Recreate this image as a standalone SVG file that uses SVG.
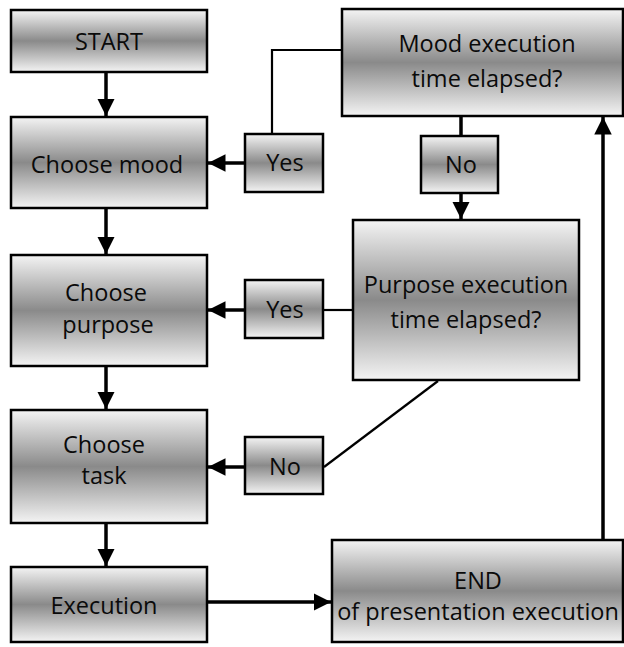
<svg xmlns="http://www.w3.org/2000/svg" width="624" height="647" viewBox="0 0 624 647">
<defs>
<linearGradient id="g" x1="0" y1="0" x2="0" y2="1">
<stop offset="0" stop-color="#f4f4f4"/>
<stop offset="0.5" stop-color="#8a8a8a"/>
<stop offset="1" stop-color="#f4f4f4"/>
</linearGradient>
<marker id="ah" viewBox="0 0 10 10" refX="10" refY="5" markerWidth="5" markerHeight="5" markerUnits="strokeWidth" orient="auto">
<path d="M0,0 L10,5 L0,10 z" fill="#000"/>
</marker>
</defs>
<style>
.box{fill:url(#g);stroke:#000;stroke-width:2.5}
.t{font-family:"Open Sans","Noto Sans",sans-serif;font-size:23.5px;fill:#0a0a0a;text-anchor:middle}
.a{stroke:#000;stroke-width:3.5;fill:none}
.l{stroke:#000;stroke-width:2.2;fill:none}
</style>
<rect width="624" height="647" fill="#fff"/>
<g id="connectors">
<line class="a" x1="106" y1="72" x2="106" y2="116" marker-end="url(#ah)"/>
<line class="a" x1="106" y1="208" x2="106" y2="254" marker-end="url(#ah)"/>
<line class="a" x1="106" y1="366" x2="106" y2="409" marker-end="url(#ah)"/>
<line class="a" x1="106" y1="523" x2="106" y2="566" marker-end="url(#ah)"/>
<line class="a" x1="245" y1="163" x2="208" y2="163" marker-end="url(#ah)"/>
<polyline class="l" points="272,134 272,50 342,50"/>
<line class="a" x1="461" y1="116" x2="461" y2="135"/>
<line class="a" x1="461" y1="193" x2="461" y2="219" marker-end="url(#ah)"/>
<line class="a" x1="245" y1="310" x2="208" y2="310" marker-end="url(#ah)"/>
<line class="l" x1="323" y1="310" x2="353" y2="310"/>
<line class="a" x1="245" y1="467" x2="208" y2="467" marker-end="url(#ah)"/>
<line class="l" x1="438" y1="381" x2="324" y2="467" stroke-width="2.5"/>
<line class="a" x1="207" y1="602" x2="331" y2="602" marker-end="url(#ah)"/>
<line class="a" x1="603" y1="540" x2="603" y2="117" marker-end="url(#ah)"/>
</g>
<g id="start"><rect class="box" x="11" y="10" width="196" height="62"/><text class="t" x="109" y="50">START</text></g>
<g id="choose-mood"><rect class="box" x="11" y="117" width="196" height="91"/><text class="t" x="107" y="173">Choose mood</text></g>
<g id="choose-purpose"><rect class="box" x="11" y="255" width="196" height="111"/><text class="t" x="106" y="301">Choose</text><text class="t" x="108" y="333">purpose</text></g>
<g id="choose-task"><rect class="box" x="11" y="410" width="196" height="113"/><text class="t" x="104" y="453">Choose</text><text class="t" x="104" y="484">task</text></g>
<g id="execution"><rect class="box" x="11" y="567" width="196" height="75"/><text class="t" x="104" y="614">Execution</text></g>
<g id="yes-mood"><rect class="box" x="245" y="134" width="78" height="58"/><text class="t" x="285" y="171">Yes</text></g>
<g id="mood-elapsed"><rect class="box" x="342" y="9" width="281" height="107"/><text class="t" x="487" y="52">Mood execution</text><text class="t" x="487" y="87">time elapsed?</text></g>
<g id="no-mood"><rect class="box" x="421" y="136" width="77" height="57"/><text class="t" x="461" y="173">No</text></g>
<g id="purpose-elapsed"><rect class="box" x="353" y="220" width="226" height="160"/><text class="t" x="466" y="293">Purpose execution</text><text class="t" x="466" y="328">time elapsed?</text></g>
<g id="yes-purpose"><rect class="box" x="245" y="280" width="78" height="58"/><text class="t" x="285" y="318">Yes</text></g>
<g id="no-purpose"><rect class="box" x="245" y="437" width="78" height="57"/><text class="t" x="285" y="475">No</text></g>
<g id="end"><rect class="box" x="332" y="540" width="291" height="102"/><text class="t" x="478" y="589">END</text><text class="t" x="478" y="620">of presentation execution</text></g>
</svg>
